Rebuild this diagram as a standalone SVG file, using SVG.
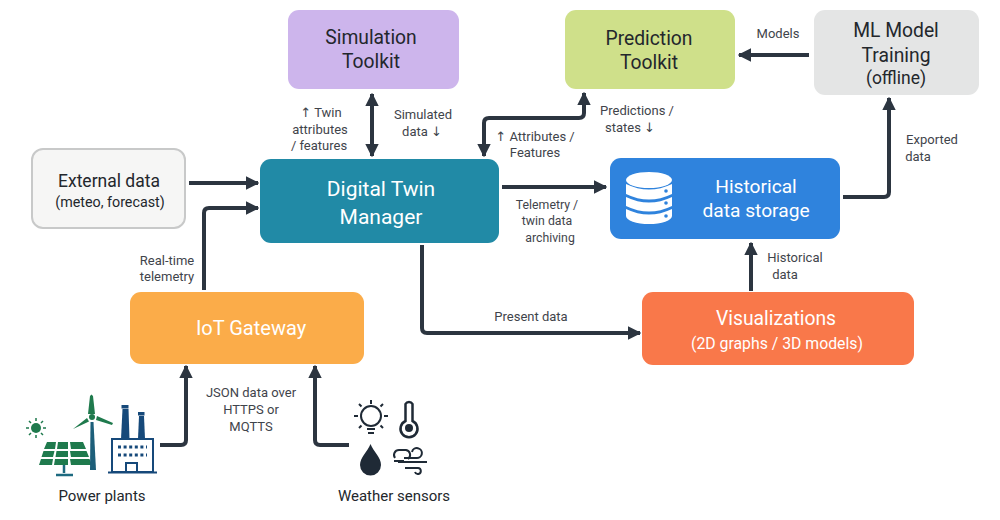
<svg xmlns="http://www.w3.org/2000/svg" width="1000" height="520" viewBox="0 0 1000 520">
<defs>
<marker id="a" viewBox="0 0 10 10" refX="9" refY="5" markerWidth="3.4" markerHeight="3.6" orient="auto-start-reverse" markerUnits="strokeWidth"><path d="M0 0L10 5L0 10Z" fill="#2c3540"/></marker>
</defs>
<style>
text{font-family:Roboto,"Liberation Sans",sans-serif;text-anchor:middle}
.c{fill:none;stroke:#2c3540;stroke-width:4;stroke-linejoin:round;marker-end:url(#a)}
.s{marker-start:url(#a)}
.l{font-size:13px;fill:#3f444b}
.ar{font-family:"DejaVu Sans",sans-serif;fill:#3f444b}
.w{fill:#fff}
.d{fill:#23272c}
.t{font-size:19.300px}
</style>
<rect width="1000" height="520" fill="#fff"/>
<g id="connectors">
<path class="c s" d="M372 94V156"/>
<path class="c s" d="M484 156V123Q484 118 489 118H579Q584 118 584 113V93"/>
<path class="c s" d="M809 55H739" style="marker-start:none"/>
<path class="c" d="M189 183H258"/>
<path class="c" d="M204 290V213Q204 208 209 208H258"/>
<path class="c" d="M502 187H606"/>
<path class="c" d="M843 197H884Q889 197 889 192V98"/>
<path class="c" d="M751 291V243"/>
<path class="c" d="M422 245V328Q422 333 427 333H640"/>
<path class="c" d="M160 445H181Q186 445 186 440V366"/>
<path class="c" d="M349 445H320Q315 445 315 440V366"/>
</g>
<g id="sim"><rect x="288" y="10" width="171" height="79" rx="11" fill="#cdb5ec"/><text x="371" y="44" class="t d">Simulation</text><text x="371" y="68" class="t d">Toolkit</text></g>
<g id="pred"><rect x="565" y="10" width="170" height="79" rx="11" fill="#cfe08a"/><text x="649" y="45" class="t d">Prediction</text><text x="649" y="69" class="t d">Toolkit</text></g>
<g id="ml"><rect x="814" y="10" width="165" height="85" rx="11" fill="#e4e5e5"/><text x="896" y="37" class="t d">ML Model</text><text x="896" y="62" class="t d">Training</text><text x="896" y="84" font-size="17.500" class="d">(offline)</text></g>
<g id="ext"><rect x="32" y="149" width="153" height="79" rx="11" fill="#f6f6f5" stroke="#c8c9c9" stroke-width="2"/><text x="109" y="187" font-size="17.500" class="d">External data</text><text x="110" y="207" font-size="14.300" class="d">(meteo, forecast)</text></g>
<g id="dtm"><rect x="260" y="159" width="239" height="84" rx="11" fill="#218aa6"/><text x="381" y="196" font-size="21" class="w">Digital Twin</text><text x="381" y="224" font-size="21" class="w">Manager</text></g>
<g id="hist"><rect x="610" y="158" width="230" height="81" rx="11" fill="#2f83dd"/>
<g class="w"><ellipse cx="649" cy="180" rx="23" ry="8"/><path d="M626 184q23 11 46 0v10q-23 11-46 0Z"/><path d="M626 197q23 11 46 0v9q-23 11-46 0Z"/><path d="M626 209q23 11 46 0v7a23 8 0 0 1-46 0Z"/></g>
<g fill="#2f83dd"><circle cx="666" cy="191" r="1.800"/><circle cx="666" cy="203" r="1.800"/><circle cx="666" cy="216" r="1.800"/></g>
<text x="756" y="193" font-size="19.200" class="w">Historical</text><text x="756" y="217" font-size="19.200" class="w">data storage</text></g>
<g id="iot"><rect x="130" y="292" width="234" height="72" rx="11" fill="#fbac49"/><text x="251" y="335" font-size="20" class="w">IoT Gateway</text></g>
<g id="vis"><rect x="642" y="292" width="272" height="73" rx="11" fill="#f9784a"/><text x="776" y="325" font-size="19.300" class="w">Visualizations</text><text x="777" y="349" font-size="15.800" class="w">(2D graphs / 3D models)</text></g>
<g id="power">
<g fill="#1f7a4d"><circle cx="36" cy="428" r="5"/><path stroke="#1f7a4d" stroke-width="1.500" d="M36 418v3M36 435v3M26 428h3M43 428h3M29 421l2 2M41 433l2 2M29 435l2-2M41 423l2-2"/>
<path d="M47 442H56L55 449H44ZM58 442H68V449H57ZM70 442H83L86 449H71ZM43.500 451H54.500L53 457H41.500ZM56.500 451H68V457H55.500ZM70 451H86.500L89 457H71ZM41 459H53L52 465H39ZM55 459H68V465H54ZM70 459H89.500L92 465H71Z"/>
<path d="M90 396l1.500-1.500l1.500 1.500l2 18h-7ZM73 429l14-11l2 3.500ZM97 416l16 7l-1 2l-16-5Z"/></g>
<circle cx="92" cy="417" r="3" fill="#1f7a4d"/>
<path d="M64 465v8M56 475h17" fill="none" stroke="#1d6a80" stroke-width="2.500"/>
<path fill="#1d5f7a" d="M90.500 422h3l2.500 48h-6Z"/>
<g fill="#16497a"><path d="M122.500 409h6l1 30h-8.500Z"/><path d="M139 416h5l1 23h-7Z"/><rect x="121.500" y="405" width="7" height="3.500"/><rect x="138" y="412" width="6.500" height="3.500"/></g>
<rect x="112" y="439" width="41" height="33" fill="#fff" stroke="#16497a" stroke-width="2"/><path d="M108 472.500h49" stroke="#16497a" stroke-width="2"/><rect x="126" y="463" width="11" height="9" fill="#fff" stroke="#16497a" stroke-width="2"/>
<path d="M118 447h29M118 455h29" stroke="#16497a" stroke-width="3" stroke-dasharray="3 2.600"/>
<text x="102" y="501" font-size="15" class="d">Power plants</text></g>
<g id="weather" fill="none" stroke="#1f2a36">
<circle cx="371" cy="416" r="10" stroke-width="2"/><path stroke-width="2" d="M371 400v4M354 416h4M388 416h-4M359 404l2.500 2.500M383 404l-2.500 2.500M359 428l2.500-2.500M383 428l-2.500-2.500M367 429h8M368 433h6"/>
<path stroke-width="2.500" d="M405.500 404a4 4 0 0 1 7 0v17a8.500 8.500 0 1 1-7 0Z"/><circle cx="409" cy="428" r="4" fill="#1f2a36" stroke="none"/>
<path fill="#1f2a36" stroke="none" d="M370.500 444c3 8 10.500 13 10.500 21a10.500 10.500 0 0 1-21 0c0-8 7.500-13 10.500-21Z"/>
<path stroke-width="2" d="M394 461h10M395 458a5 5 0 0 1 4-8h7a5 5 0 0 1 2 9M412 452a5 5 0 1 1 4 6M404 458h14M398 462h29M405 468h13a3 3 0 1 1-3 4"/>
<text x="394" y="501" font-size="15" stroke="none" class="d">Weather sensors</text></g>
<g id="labels" class="l">
<text x="321" y="117" class="l"><tspan class="ar">↑</tspan> Twin</text><text x="320" y="134" class="l">attributes</text><text x="319" y="150" class="l">/ features</text>
<text x="423" y="119" class="l">Simulated</text><text x="422" y="136" class="l">data <tspan class="ar">↓</tspan></text>
<text x="535" y="141" class="l"><tspan class="ar">↑</tspan> Attributes /</text><text x="535" y="157" class="l">Features</text>
<text x="637" y="115" class="l">Predictions /</text><text x="630" y="132" class="l">states <tspan class="ar">↓</tspan></text>
<text x="778" y="38" class="l">Models</text>
<text x="932" y="144" class="l">Exported</text><text x="918" y="161" class="l">data</text>
<text x="547" y="209" font-size="12.300" style="font-size:12.300px" class="l">Telemetry /</text><text x="547" y="225" class="l" style="font-size:12.300px">twin data</text><text x="550" y="242" class="l" style="font-size:12.300px">archiving</text>
<text x="531" y="321" class="l">Present data</text>
<text x="795" y="262" class="l">Historical</text><text x="785" y="279" class="l">data</text>
<text x="167" y="265" class="l">Real-time</text><text x="167" y="281" class="l">telemetry</text>
<text x="251" y="397" class="l">JSON data over</text><text x="251" y="414" class="l">HTTPS or</text><text x="251" y="431" class="l">MQTTS</text>
</g>
</svg>
